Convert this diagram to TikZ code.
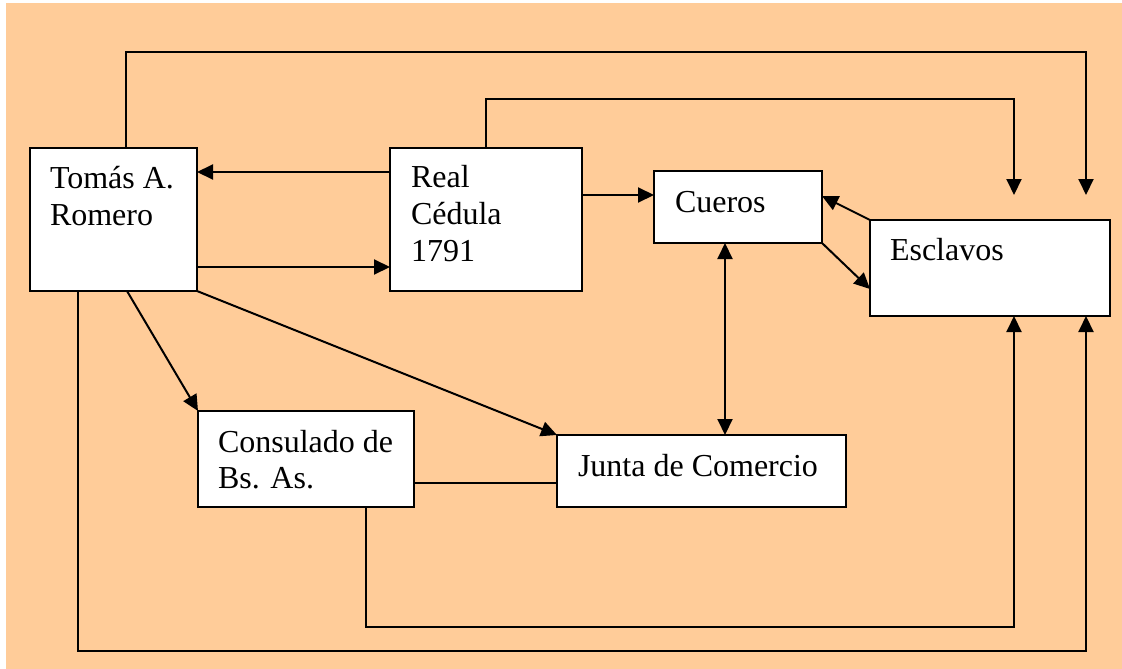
\documentclass[tikz,border=0pt]{standalone}
\usepackage{fontspec}
\setmainfont{Liberation Serif}
\usetikzlibrary{arrows.meta}
\definecolor{peach}{HTML}{FFCC99}
\begin{document}
\begin{tikzpicture}[x=1pt,y=-1pt,
  box/.style={draw=black,fill=white,line width=2pt,rectangle,inner sep=0pt,outer sep=0pt},
  txt/.style={inner sep=0pt,outer sep=0pt,anchor=base west,align=left,font=\fontsize{32}{37}\selectfont},
  conn/.style={line width=2pt,draw=black},
  arr/.style={conn,-{Triangle[length=16pt,width=15pt]}},
  darr/.style={conn,{Triangle[length=16pt,width=15pt]}-{Triangle[length=16pt,width=15pt]}}]
\useasboundingbox (0,0) rectangle (1122,669);
\fill[white] (0,0) rectangle (1122,669);
\fill[peach] (6,3) rectangle (1122,669);
% boxes
\node[box,minimum width=167pt,minimum height=143pt] (tomas) at (113.5,219.5) {};
\node[box,minimum width=192pt,minimum height=143pt] (real) at (486,219.5) {};
\node[box,minimum width=168pt,minimum height=72pt] (cueros) at (738,207) {};
\node[box,minimum width=240pt,minimum height=96pt] (esclavos) at (990,268) {};
\node[box,minimum width=216pt,minimum height=96pt] (consulado) at (306,459) {};
\node[box,minimum width=289pt,minimum height=72pt] (junta) at (701.5,471) {};
% texts
\node[txt] (tomasA) at (50,188) {Tomás A.};
\node[txt] (tomasB) at (50,225) {Romero};
\node[txt] (realA) at (411,187) {Real};
\node[txt] (realB) at (411,224) {Cédula};
\node[txt] (realC) at (411,261) {1791};
\node[txt] (cuerosT) at (675,212) {Cueros};
\node[txt] (esclavosT) at (890,260) {Esclavos};
\node[txt] (consA) at (218,452) {Consulado de};
\node[txt] (consB) at (218,488) {Bs. As.};
\node[txt] (juntaT) at (578,476) {Junta de Comercio};
% free ends
\coordinate (topA) at (1086,195);
\coordinate (topB) at (1014,195);
% connectors
\draw[arr] (real.west |- 0,172) -- (tomas.east |- 0,172);
\draw[arr] (tomas.east |- 0,267) -- (real.west |- 0,267);
\draw[arr] (real.east |- 0,195) -- (cueros.west |- 0,195);
\draw[arr] (esclavos.north west) -- (cueros.east |- 0,196);
\draw[arr] (cueros.south east) -- (esclavos.west |- 0,289);
\draw[darr] (725,0 |- cueros.south) -- (725,0 |- junta.north);
\draw[arr] (127,0 |- tomas.south) -- (consulado.north west);
\draw[arr] (tomas.south east) -- (junta.north west);
\draw[conn] (consulado.east |- 0,483) -- (junta.west |- 0,483);
\draw[arr] (126,0 |- tomas.north) |- (1086,52) -- (topA);
\draw[arr] (486,0 |- real.north) |- (1014,99) -- (topB);
\draw[arr] (366,0 |- consulado.south) |- (1014,627) -- (1014,0 |- esclavos.south);
\draw[arr] (78,0 |- tomas.south) |- (1086,651) -- (1086,0 |- esclavos.south);
\end{tikzpicture}
\end{document}
